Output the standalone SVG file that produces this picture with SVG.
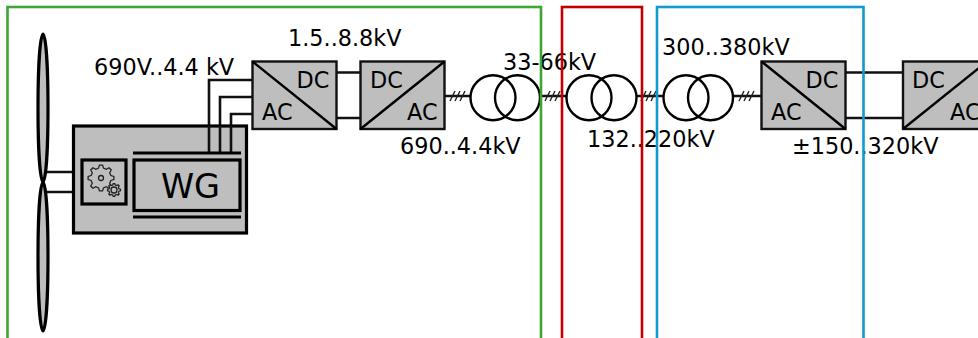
<svg xmlns="http://www.w3.org/2000/svg" width="978" height="338" viewBox="0 0 978 338">
<style>
text{font-family:"DejaVu Sans",sans-serif;font-size:22.35px;fill:#000}
.s{fill:#bebebe;stroke:#111;stroke-width:2.4}
.t{fill:none;stroke:#000;stroke-width:2.4}
.l{fill:none;stroke:#111;stroke-width:2.6}
.h{fill:none;stroke:#222;stroke-width:1.4}
.b{fill:#bebebe;stroke:#000;stroke-width:3.2}
.g{fill:none;stroke:#222;stroke-width:1.3}
.f{fill:none;stroke-width:2.6}
</style>
<defs>
<path id="gear" vector-effect="non-scaling-stroke" d="M99-12 99 12 76 19 67 40 79 62 62 79 40 67 19 76 12 99-12 99-19 76-40 67-62 79-79 62-67 40-76 19-99 12-99-12-76-19-67-40-79-62-62-79-40-67-19-76-12-99 12-99 19-76 40-67 62-79 79-62 67-40 76-19Z"/>
<path id="hash" d="M-8 5-3-5M-3 5 2-5M2 5 7-5"/>
</defs>
<rect x="0" y="0" width="978" height="338" fill="#fff"/>
<g id="connectors">
<path class="l" d="M45 172H82M45 192H82M126 172H134M126 192H134"/>
<path class="l" d="M209 153V80H252M220 153V97H252M231 153V114H252"/>
<path class="l" d="M337 72.500H360M337 118H360M846 72.500H903M846 118H903"/>
<path class="l" d="M444 96H471M540 96H567M637 96H663M733 96H761"/>
<g class="h"><use href="#hash" x="458" y="96"/><use href="#hash" x="553" y="96"/><use href="#hash" x="649" y="96"/><use href="#hash" x="747" y="96"/></g>
</g>
<g id="turbine">
<ellipse cx="43" cy="108" rx="5" ry="74" class="b"/>
<ellipse cx="43" cy="256.500" rx="5" ry="74.500" class="b"/>
</g>
<g id="nacelle">
<rect x="73.500" y="126" width="173" height="107" class="b"/>
</g>
<g id="generator-wires">
<path class="l" d="M209 126V153M220 126V153M231 126V153"/>
</g>
<g id="gearbox">
<rect x="82" y="160" width="44" height="44" class="b"/>
<use href="#gear" class="g" transform="translate(101 178) scale(.13)"/>
<circle cx="101" cy="178" r="2.500" class="g"/>
<use href="#gear" class="g" style="fill:#bebebe" transform="translate(114 190) scale(.065)"/>
<circle cx="114" cy="190" r="3" class="g"/>
</g>
<g id="wg">
<path d="M133 153H241M133 217H241" fill="none" stroke="#000" stroke-width="3.200"/>
<rect x="134" y="160" width="106" height="50.500" class="b"/>
<text x="161" y="198" style="font-size:33.500px">WG</text>
</g>
<g id="conv1">
<rect x="252.500" y="61.500" width="84" height="67.500" class="s"/>
<path class="t" d="M252.500 61.500 336.500 129"/>
<text x="296.500" y="88">DC</text><text x="262" y="120">AC</text>
</g>
<g id="conv2">
<rect x="360.500" y="61.500" width="84" height="67.500" class="s"/>
<path class="t" d="M360.500 129 444.500 61.500"/>
<text x="370" y="88">DC</text><text x="407" y="120">AC</text>
</g>
<g id="conv3">
<rect x="761.500" y="61.500" width="84" height="67.500" class="s"/>
<path class="t" d="M761.500 61.500 845.500 129"/>
<text x="805.500" y="88">DC</text><text x="771" y="120">AC</text>
</g>
<g id="conv4">
<rect x="903" y="61.500" width="84" height="67.500" class="s"/>
<path class="t" d="M903 129 987 61.500"/>
<text x="912" y="88">DC</text><text x="950" y="120">AC</text>
</g>
<g id="trafo1" class="t"><circle cx="493" cy="97.700" r="22.500"/><circle cx="517.500" cy="97.700" r="22.500"/></g>
<g id="trafo2" class="t"><circle cx="589" cy="97.700" r="22.500"/><circle cx="614" cy="97.700" r="22.500"/></g>
<g id="trafo3" class="t"><circle cx="686" cy="97.700" r="22.500"/><circle cx="710.500" cy="97.700" r="22.500"/></g>
<g id="labels">
<text x="94" y="75">690V..4.4 kV</text>
<text x="288" y="46">1.5..8.8kV</text>
<text x="503" y="70">33-66kV</text>
<text x="662" y="55">300..380kV</text>
<text x="400" y="154">690..4.4kV</text>
<text x="587" y="147">132..220kV</text>
<text x="792" y="154">±150..320kV</text>
</g>
<g id="zones">
<rect x="7.500" y="7" width="533.500" height="340" class="f" stroke="#3fa535"/>
<rect x="562" y="7" width="80" height="340" class="f" stroke="#c00000"/>
<rect x="657" y="7" width="206.500" height="340" class="f" stroke="#0f9bd0"/>
</g>
</svg>
